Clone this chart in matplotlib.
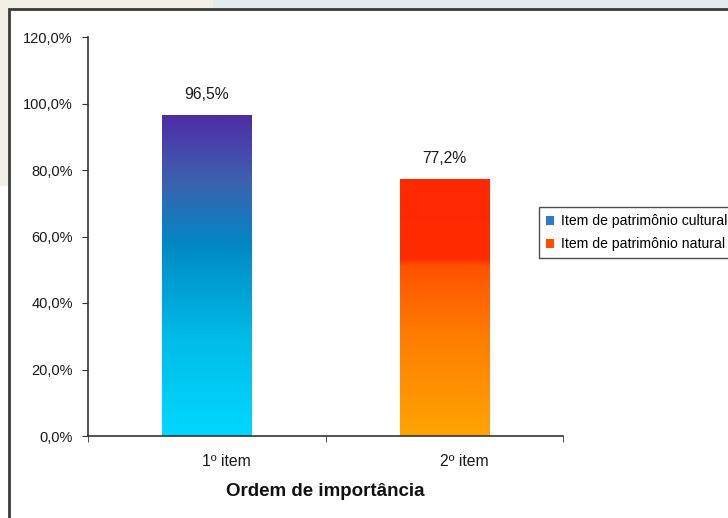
import matplotlib
matplotlib.use("Agg")
import matplotlib.pyplot as plt
import matplotlib.transforms as mtransforms
import numpy as np
from matplotlib.colors import LinearSegmentedColormap
from matplotlib.patches import Patch, Rectangle

plt.rcParams['font.family'] = ['Liberation Sans', 'DejaVu Sans']

categories = ["1º item", "2º item"]
series_names = ["Item de patrimônio cultural", "Item de patrimônio natural"]
values = [96.5, 77.2]
value_labels = ["96,5%", "77,2%"]
y_ticks = [0, 20, 40, 60, 80, 100, 120]
y_tick_labels = ["0,0%", "20,0%", "40,0%", "60,0%", "80,0%", "100,0%", "120,0%"]

# vertical gradients (bottom -> top) for each bar
gradients = [
    [(0.0, "#00d8ff"), (0.3, "#00bce8"), (0.6, "#0088c4"), (0.8, "#3e60ae"), (1.0, "#4e2ca6")],
    [(0.0, "#ffa400"), (0.4, "#ff7c00"), (0.66, "#ff5200"), (0.69, "#ff2c00"), (1.0, "#ff2800")],
]
legend_colors = ["#2f78d0", "#ff4a00"]

fig = plt.figure(figsize=(7.28, 5.18), dpi=100)

# page background behind the chart frame
fig.add_artist(Rectangle((0, 0.64), 0.293, 0.36, transform=fig.transFigure,
                         facecolor="#f3f1e6", edgecolor="none", zorder=-3))
fig.add_artist(Rectangle((0.293, 0.98), 0.71, 0.02, transform=fig.transFigure,
                         facecolor="#e5eaed", edgecolor="none", zorder=-3))
fig.add_artist(Rectangle((9 / 728, -0.1), 1.2, 0.1 + 1 - 9 / 518, transform=fig.transFigure,
                         facecolor="white", edgecolor="#3a3a3a", linewidth=2, zorder=-2))

ax = fig.add_axes([88 / 728, 1 - 436 / 518, 475 / 728, 399 / 518])
ax.set_facecolor("none")

x = np.arange(len(categories))
width = 0.375
for i, v in enumerate(values):
    cmap = LinearSegmentedColormap.from_list("g%d" % i, gradients[i])
    grad = np.linspace(1, 0, 256).reshape(-1, 1)
    ax.imshow(grad, cmap=cmap, vmin=0, vmax=1, aspect="auto",
              extent=(x[i] - width / 2, x[i] + width / 2, 0, v), zorder=2)
    ax.text(x[i], v + 3.9, value_labels[i], ha="center", va="bottom",
            fontsize=11.3, color="#1a1a1a")

ax.set_xlim(-0.5, len(categories) - 0.5)
ax.set_ylim(0, 120)

for s in ["top", "right"]:
    ax.spines[s].set_visible(False)
for s in ["left", "bottom"]:
    ax.spines[s].set_color("#333333")
    ax.spines[s].set_linewidth(1.2)

ax.set_yticks(y_ticks)
ax.set_yticklabels(y_tick_labels, fontsize=10.5, color="#1a1a1a")
ax.tick_params(axis="y", length=4, pad=7, color="#333333")

ax.set_xticks(x)
ax.set_xticklabels(categories, fontsize=11.3, color="#1a1a1a")
ax.tick_params(axis="x", which="major", length=0, pad=13)
ax.set_xticks([-0.5, 0.5, 1.5], minor=True)
ax.tick_params(axis="x", which="minor", length=4, color="#333333")
shift = mtransforms.ScaledTranslation(0.2, 0, fig.dpi_scale_trans)
for lbl in ax.get_xticklabels():
    lbl.set_transform(lbl.get_transform() + shift)

ax.set_xlabel("Ordem de importância", fontsize=13.5, fontweight="bold",
              color="#111111", labelpad=10)

handles = [Patch(facecolor=c, edgecolor="none") for c in legend_colors]
leg = ax.legend(handles, series_names, loc="center left", bbox_to_anchor=(0.949, 0.509),
                fontsize=10.1, frameon=True, fancybox=False, handlelength=0.55,
                handleheight=0.55, handletextpad=0.5, borderpad=0.5, labelspacing=0.65,
                borderaxespad=0)
leg.get_frame().set_edgecolor("#222222")
leg.get_frame().set_linewidth(1)
leg.set_clip_on(False)

fig.savefig("out.png", dpi=100)
